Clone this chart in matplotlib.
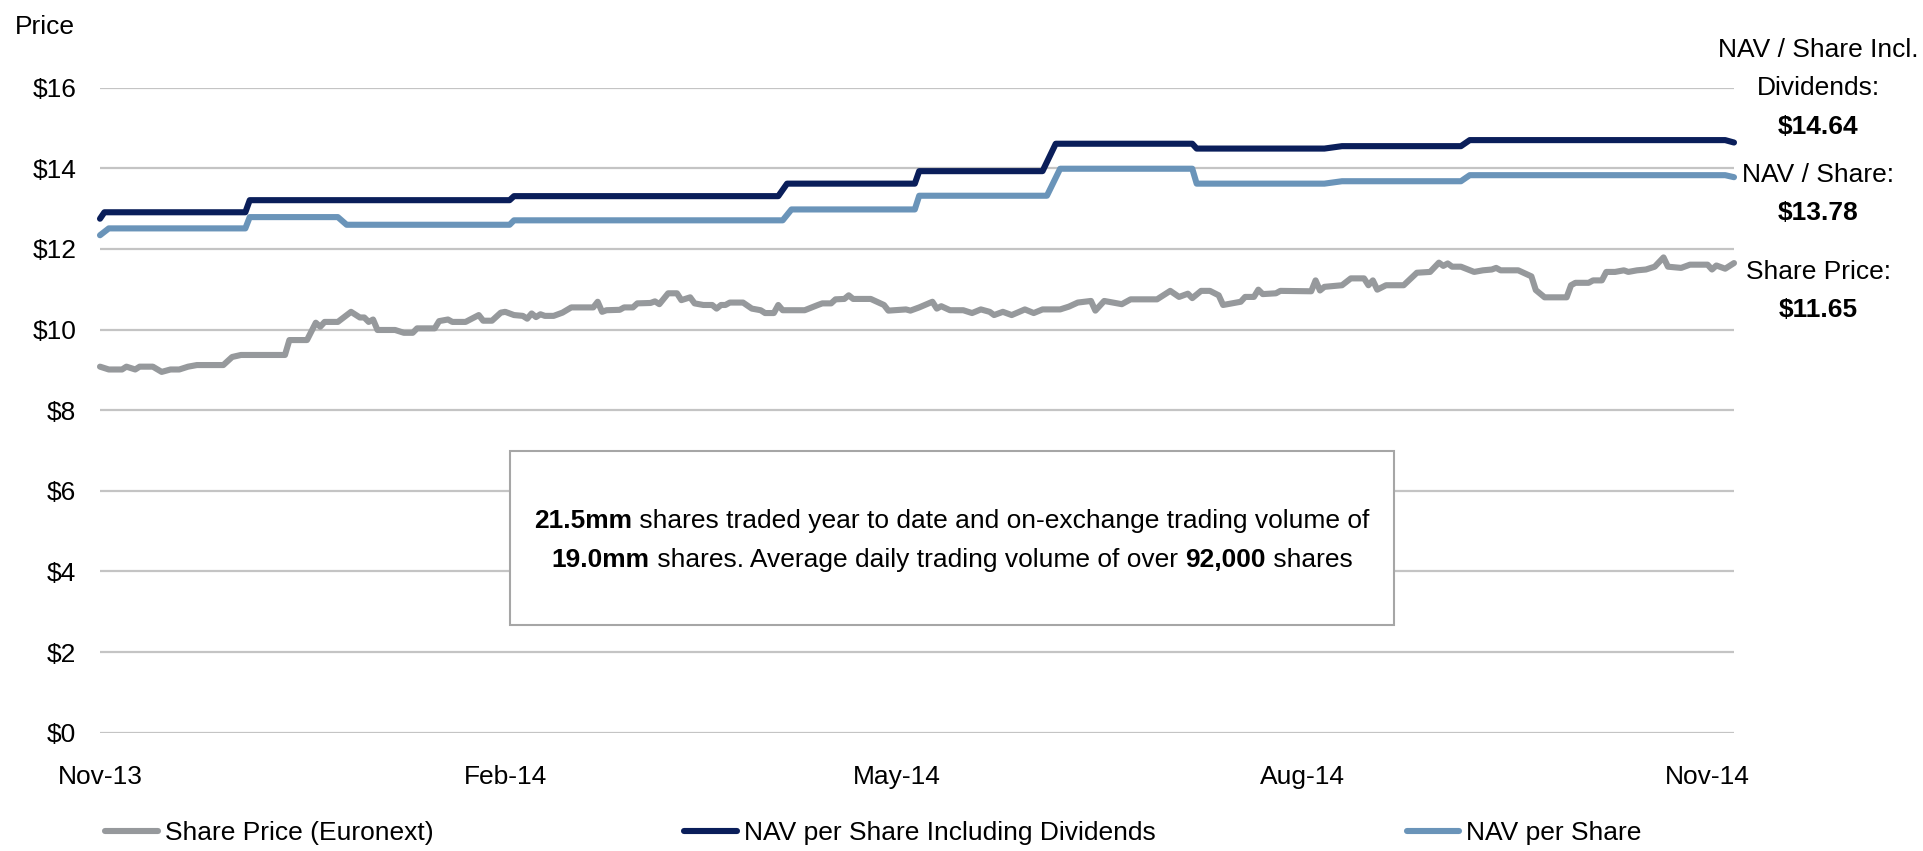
import matplotlib
matplotlib.use("Agg")
import matplotlib.pyplot as plt
import matplotlib.dates as mdates
from matplotlib import font_manager
from matplotlib.lines import Line2D
from matplotlib.patches import Rectangle
import pandas as pd

# ---------------- data ----------------
start_date = "2013-11-01"

price_days = [0, 2, 5, 6, 8, 9, 12, 14, 16, 18, 20, 22, 28, 30, 32, 42, 43, 47, 49, 50,
              51, 54, 57, 59, 60, 61, 62, 63, 67, 69, 71, 72, 76, 77, 79, 80, 83, 86, 87, 89,
              91, 92, 94, 96, 97, 98, 99, 100, 101, 103, 105, 107, 112, 113, 114, 115, 118, 119, 121, 122,
              125, 126, 127, 129, 131, 132, 134, 135, 137, 139, 140, 141, 142, 143, 146, 148, 150, 151, 153, 154,
              155, 160, 163, 164, 166, 167, 169, 170, 171, 175, 178, 179, 183, 184, 186, 189, 190, 191, 193, 196,
              198, 200, 202, 203, 205, 207, 210, 212, 214, 218, 220, 222, 225, 226, 228, 232, 234, 240, 243, 245,
              247, 248, 250, 252, 254, 255, 257, 259, 260, 262, 263, 264, 267, 268, 275, 276, 277, 278, 282, 284,
              287, 288, 289, 290, 292, 296, 299, 302, 304, 305, 306, 307, 309, 312, 314, 316, 317, 318, 322, 325,
              326, 328, 333, 334, 335, 338, 339, 341, 342, 344, 346, 347, 349, 351, 353, 355, 356, 359, 361, 365,
              366, 367, 369, 371]
price_vals = [9.08, 9.01, 9.01, 9.08, 9.01, 9.08, 9.08, 8.95, 9.01, 9.01, 9.08, 9.12, 9.12, 9.32, 9.37, 9.37, 9.74, 9.74, 10.17, 10.07,
              10.19, 10.19, 10.44, 10.30, 10.30, 10.19, 10.25, 9.99, 9.99, 9.92, 9.92, 10.03, 10.03, 10.21, 10.25, 10.19, 10.19, 10.36, 10.22, 10.22,
              10.42, 10.44, 10.36, 10.34, 10.27, 10.40, 10.31, 10.38, 10.34, 10.34, 10.42, 10.55, 10.55, 10.69, 10.44, 10.48, 10.49, 10.55, 10.55, 10.65,
              10.66, 10.70, 10.63, 10.90, 10.90, 10.73, 10.80, 10.65, 10.61, 10.61, 10.52, 10.61, 10.61, 10.67, 10.67, 10.52, 10.48, 10.41, 10.41, 10.61,
              10.48, 10.48, 10.61, 10.65, 10.65, 10.75, 10.76, 10.85, 10.76, 10.76, 10.61, 10.47, 10.50, 10.47, 10.55, 10.69, 10.52, 10.58, 10.48, 10.48,
              10.41, 10.50, 10.44, 10.36, 10.44, 10.36, 10.50, 10.41, 10.50, 10.50, 10.57, 10.67, 10.71, 10.47, 10.71, 10.63, 10.75, 10.75, 10.96, 10.81,
              10.89, 10.78, 10.96, 10.96, 10.85, 10.61, 10.65, 10.69, 10.81, 10.81, 10.99, 10.88, 10.90, 10.96, 10.95, 11.22, 10.97, 11.06, 11.10, 11.27,
              11.27, 11.10, 11.22, 10.99, 11.10, 11.10, 11.41, 11.43, 11.66, 11.58, 11.64, 11.56, 11.56, 11.43, 11.47, 11.49, 11.53, 11.47, 11.47, 11.32,
              10.98, 10.80, 10.80, 11.10, 11.16, 11.16, 11.22, 11.22, 11.43, 11.43, 11.47, 11.43, 11.47, 11.49, 11.56, 11.79, 11.56, 11.53, 11.61, 11.61,
              11.49, 11.59, 11.51, 11.65]

navdiv_days = [0, 1, 33, 34, 93, 94, 154, 156, 185, 186, 214, 217, 248, 249, 278, 282, 309, 311, 369, 371]
navdiv_vals = [12.75, 12.91, 12.91, 13.21, 13.21, 13.31, 13.31, 13.62, 13.62, 13.93, 13.93, 14.61, 14.61, 14.49,
               14.49, 14.55, 14.55, 14.70, 14.70, 14.64]

nav_days = [0, 2, 33, 34, 54, 56, 93, 94, 155, 157, 185, 186, 215, 218, 248, 249, 278, 282, 309, 311, 369, 371]
nav_vals = [12.34, 12.51, 12.51, 12.79, 12.79, 12.60, 12.60, 12.71, 12.71, 12.98, 12.98, 13.32, 13.32, 13.99,
            13.99, 13.62, 13.62, 13.68, 13.68, 13.83, 13.83, 13.78]

series_names = ["Share Price (Euronext)", "NAV per Share Including Dividends", "NAV per Share"]
y_ticks = [0, 2, 4, 6, 8, 10, 12, 14, 16]

end_labels = [("NAV / Share Incl.", False), ("Dividends:", False), ("$14.64", True),
              ("NAV / Share:", False), ("$13.78", True),
              ("Share Price:", False), ("$11.65", True)]

box_line1 = [("21.5mm", True), (" shares traded year to date and on-exchange trading volume of", False)]
box_line2 = [("19.0mm", True), (" shares. Average daily trading volume of over ", False), ("92,000", True), (" shares", False)]

# ---------------- style ----------------
names = {f.name for f in font_manager.fontManager.ttflist}
if "Liberation Sans Narrow" in names:
    FONT = "Liberation Sans Narrow"
    FS = 22.5
else:
    FONT = "Liberation Sans"
    FS = 19
plt.rcParams["font.family"] = [FONT, "DejaVu Sans"]

C_GRAY = "#96999C"
C_NAVY = "#0A1E5A"
C_BLUE = "#6A94B9"
C_GRID = "#C4C4C4"
LW = 4.4

W, H = 1923, 851
fig = plt.figure(figsize=(W / 100, H / 100), dpi=100)
ax = fig.add_axes([100 / W, 1 - 732.7 / H, (1734 - 100) / W, (732.7 - 87.7) / H])

t0 = pd.Timestamp(start_date)
to_dates = lambda d: t0 + pd.to_timedelta(d, unit="D")

ax.plot(to_dates(price_days), price_vals, color=C_GRAY, lw=LW, solid_joinstyle="round",
        solid_capstyle="round", clip_on=False, zorder=3)
ax.plot(to_dates(navdiv_days), navdiv_vals, color=C_NAVY, lw=LW, solid_joinstyle="round",
        solid_capstyle="round", clip_on=False, zorder=4)
ax.plot(to_dates(nav_days), nav_vals, color=C_BLUE, lw=LW, solid_joinstyle="round",
        solid_capstyle="round", clip_on=False, zorder=4)

ax.set_xlim(to_dates(0), to_dates(price_days[-1]))
ax.set_ylim(0, 16)
ax.set_yticks(y_ticks)
ax.set_yticklabels([f"${v}" for v in y_ticks])
ax.xaxis.set_major_locator(mdates.MonthLocator(bymonth=[2, 5, 8, 11]))
ax.xaxis.set_major_formatter(mdates.DateFormatter("%b-%y"))
ax.tick_params(axis="both", length=0, labelsize=FS, colors="black")
ax.tick_params(axis="y", pad=17)
ax.tick_params(axis="x", pad=23)
for s in ax.spines.values():
    s.set_visible(False)
ax.grid(axis="y", color=C_GRID, lw=1.6, zorder=0)
ax.set_axisbelow(True)

fig.text(15 / W, 1 - 27 / H, "Price", fontsize=FS, ha="left", va="center")

# right-hand end labels
ys = [50, 88, 127, 175, 213, 272, 310]
for (txt, bold), yy in zip(end_labels, ys):
    fig.text(1818 / W, 1 - yy / H, txt, fontsize=FS, ha="center", va="center",
             fontweight="bold" if bold else "normal")

# annotation box
fig.patches.append(Rectangle((510 / W, 1 - 625 / H), (1394 - 510) / W, (625 - 451) / H,
                             transform=fig.transFigure, facecolor="white", edgecolor="#A6A6A6",
                             lw=1.5, zorder=5))


def rich_line(parts, yc, size):
    r = fig.canvas.get_renderer()
    widths = []
    for txt, bold in parts:
        t = fig.text(0, 0, txt, fontsize=size, fontweight="bold" if bold else "normal")
        widths.append(t.get_window_extent(r).width)
        t.remove()
    x = 952 - sum(widths) / 2
    for (txt, bold), w in zip(parts, widths):
        fig.text(x / W, 1 - yc / H, txt, fontsize=size, ha="left", va="center",
                 fontweight="bold" if bold else "normal", zorder=6)
        x += w


BFS = FS
rich_line(box_line1, 521, BFS)
rich_line(box_line2, 560, BFS)

# legend
handles = [Line2D([], [], color=c, lw=LW, solid_capstyle="round") for c in (C_GRAY, C_NAVY, C_BLUE)]
fig.legend(handles, series_names, loc="center left", bbox_to_anchor=(105 / W, 1 - 833 / H),
           ncol=3, frameon=False, fontsize=FS, handlelength=2.0, handletextpad=0.27,
           columnspacing=9.5, borderpad=0, borderaxespad=0)

fig.savefig("out.png", dpi=100)
